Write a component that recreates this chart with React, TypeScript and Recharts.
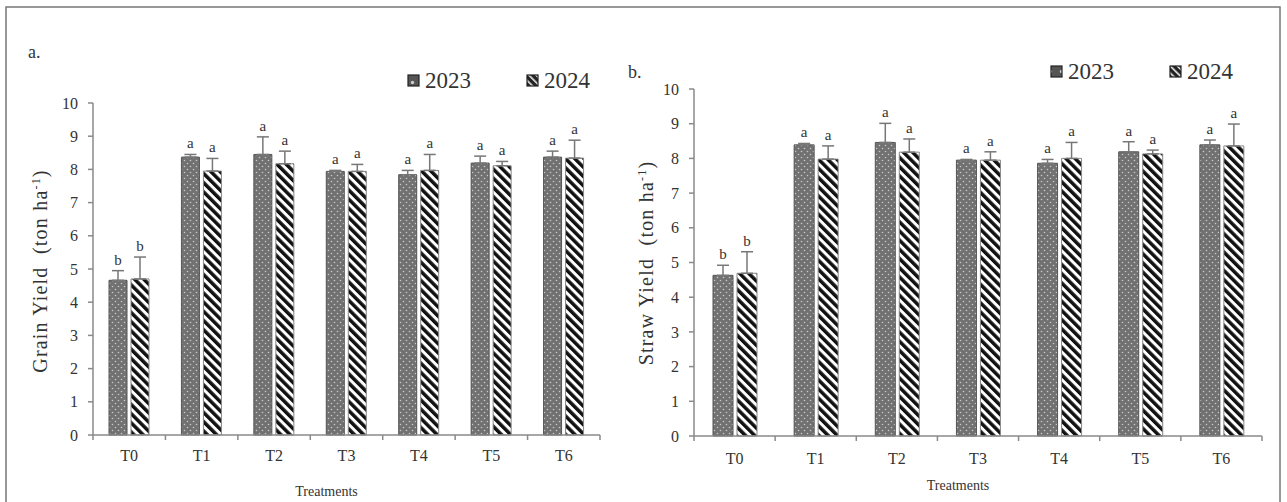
import { BarChart, Bar, XAxis, YAxis, ErrorBar, LabelList, Label } from 'recharts';

const treatments = ['T0', 'T1', 'T2', 'T3', 'T4', 'T5', 'T6'];

// a. grain yield (ton/ha)
const grain2023 = [4.66, 8.37, 8.45, 7.94, 7.84, 8.19, 8.37];
const grain2024 = [4.7, 7.95, 8.17, 7.94, 7.97, 8.11, 8.34];
const grainErr2023 = [0.29, 0.08, 0.53, 0.03, 0.13, 0.21, 0.18];
const grainErr2024 = [0.66, 0.38, 0.38, 0.21, 0.48, 0.13, 0.54];

// b. straw yield (ton/ha)
const straw2023 = [4.63, 8.39, 8.46, 7.95, 7.86, 8.19, 8.39];
const straw2024 = [4.69, 7.98, 8.18, 7.95, 8.0, 8.13, 8.36];
const strawErr2023 = [0.29, 0.04, 0.55, 0.02, 0.11, 0.29, 0.14];
const strawErr2024 = [0.62, 0.38, 0.38, 0.24, 0.46, 0.11, 0.63];

const letters2023 = ['b', 'a', 'a', 'a', 'a', 'a', 'a'];
const letters2024 = ['b', 'a', 'a', 'a', 'a', 'a', 'a'];

const yTicks = [0, 1, 2, 3, 4, 5, 6, 7, 8, 9, 10];

const serif = '"Liberation Serif", "Times New Roman", serif';
const axisGray = '#8a8a8a';
const textColor = '#333';

function buildRows(v23: number[], v24: number[], e23: number[], e24: number[]) {
  return treatments.map((t, i) => ({
    name: t,
    y2023: v23[i],
    y2024: v24[i],
    e2023: [0, e23[i]],
    e2024: [0, e24[i]],
    l2023: letters2023[i],
    l2024: letters2024[i],
  }));
}

const letterLabel = (vals: number[], errs: number[]) => (props: any) => {
  const x = Number(props.x);
  const y = Number(props.y);
  const w = Number(props.width);
  const h = Number(props.height);
  const i = props.index;
  const perUnit = h / vals[i];
  const top = y - errs[i] * perUnit;
  return (
    <text x={x + w / 2} y={top - 6} textAnchor="middle" fontSize={15} fontFamily={serif} fill={textColor}>
      {props.value}
    </text>
  );
};

// category label plus Excel-style tick marks on the category boundaries
const catTick = (band: number, gap: number) => (props: any) => {
  const x = Number(props.x);
  const y = Number(props.y);
  const axisY = y - 5 - gap;
  const left = x - band / 2;
  const right = x + band / 2;
  const last = props.index === treatments.length - 1;
  return (
    <g>
      <line x1={left} x2={left} y1={axisY} y2={axisY + 5} stroke={axisGray} strokeWidth={1.5} />
      {last && <line x1={right} x2={right} y1={axisY} y2={axisY + 5} stroke={axisGray} strokeWidth={1.5} />}
      <text x={x} y={y} dy="0.71em" textAnchor="middle" fontSize={16} fontFamily={serif} fill={textColor}>
        {props.payload.value}
      </text>
    </g>
  );
};

const xTitle = (y: number, shift: number) => (props: any) => {
  const vb = props.viewBox || {};
  const cx = Number(vb.x) + Number(vb.width) / 2 + shift;
  return (
    <text x={cx} y={y} textAnchor="middle" fontSize={14} fontFamily={serif} fill={textColor}>
      Treatments
    </text>
  );
};

interface PanelProps {
  v23: number[];
  v24: number[];
  e23: number[];
  e24: number[];
  width: number;
  margin: { top: number; right: number; bottom: number; left: number };
  yWidth: number;
  barSize: number;
  band: number;
  treatY: number;
  tickGap: number;
}

function Panel(p: PanelProps) {
  const rows = buildRows(p.v23, p.v24, p.e23, p.e24);
  return (
    <BarChart width={p.width} height={502} data={rows} margin={p.margin} barGap={4} barSize={p.barSize}>
      <XAxis
        dataKey="name"
        tickLine={false}
        axisLine={{ stroke: axisGray, strokeWidth: 1.5 }}
        tickSize={5}
        tickMargin={p.tickGap}
        height={30}
        interval={0}
        tick={catTick(p.band, p.tickGap)}
      >
        <Label content={xTitle(p.treatY, -20)} />
      </XAxis>
      <YAxis
        domain={[0, 10]}
        ticks={yTicks}
        interval={0}
        width={p.yWidth}
        tickSize={5}
        tickMargin={10}
        axisLine={{ stroke: axisGray, strokeWidth: 1.5 }}
        tickLine={{ stroke: axisGray, strokeWidth: 1.5 }}
        tick={{ fontSize: 16, fontFamily: serif, fill: textColor }}
      />
      <Bar dataKey="y2023" fill="url(#dots)" stroke="#555" strokeWidth={1} isAnimationActive={false}>
        <ErrorBar dataKey="e2023" width={6} stroke="#777" strokeWidth={1.5} direction="y" />
        <LabelList dataKey="l2023" content={letterLabel(p.v23, p.e23)} />
      </Bar>
      <Bar dataKey="y2024" fill="url(#stripes)" stroke="#888" strokeWidth={1} isAnimationActive={false}>
        <ErrorBar dataKey="e2024" width={6} stroke="#777" strokeWidth={1.5} direction="y" />
        <LabelList dataKey="l2024" content={letterLabel(p.v24, p.e24)} />
      </Bar>
    </BarChart>
  );
}

function LegendItem({ x, y, kind, label }: { x: number; y: number; kind: string; label: string }) {
  return (
    <g>
      <rect x={x} y={y} width={11} height={11} fill={`url(#${kind}-icon)`} stroke="#222" strokeWidth={1.2} />
      <text x={x + 17} y={y + 13} fontSize={23} fontFamily={serif} fill={textColor}>
        {label}
      </text>
    </g>
  );
}

function YTitle({ cx, cy, text }: { cx: number; cy: number; text: string }) {
  return (
    <text
      x={cx}
      y={cy}
      dy="0.35em"
      textAnchor="middle"
      transform={`rotate(-90, ${cx}, ${cy})`}
      fontSize={20}
      letterSpacing={1.2}
      fontFamily={serif}
      fill={textColor}
      style={{ whiteSpace: 'pre' }}
    >
      {text}{'  '}(ton ha<tspan baselineShift="super" fontSize={12}>-1</tspan>)
    </text>
  );
}

export default function App() {
  return (
    <div style={{ position: 'fixed', left: 0, top: 0, width: 1287, height: 502, background: '#fff', overflow: 'hidden' }}>
      <svg width={1287} height={502} style={{ position: 'absolute', left: 0, top: 0 }}>
        <defs>
          <pattern id="dots" width="6" height="6" patternUnits="userSpaceOnUse">
            <rect width="6" height="6" fill="#717171" />
            <circle cx="1.5" cy="1.5" r="0.8" fill="#c9c9c9" />
            <circle cx="4.5" cy="4.5" r="0.8" fill="#c9c9c9" />
          </pattern>
          <pattern id="stripes" width="6.5" height="6.5" patternUnits="userSpaceOnUse" patternTransform="rotate(-45)">
            <rect width="6.5" height="6.5" fill="#fff" />
            <rect width="3.5" height="6.5" fill="#111" />
          </pattern>
          <pattern id="dots-icon" width="11" height="11" patternUnits="userSpaceOnUse">
            <rect width="11" height="11" fill="#555" />
            <circle cx="5.5" cy="5.5" r="1.7" fill="#ccc" />
          </pattern>
          <pattern id="stripes-icon" width="5" height="5" patternUnits="userSpaceOnUse" patternTransform="rotate(-45)">
            <rect width="5" height="5" fill="#222" />
            <rect width="1.6" height="5" fill="#eee" />
          </pattern>
        </defs>
        <rect x={6} y={7} width={1274} height={510} fill="none" stroke="#777" strokeWidth={1.5} />
        <text x={28} y={58} fontSize={18} fontFamily={serif} fill={textColor}>a.</text>
        <text x={628} y={78} fontSize={18} fontFamily={serif} fill={textColor}>b.</text>
        <LegendItem x={408} y={75} kind="dots" label="2023" />
        <LegendItem x={527} y={75} kind="stripes" label="2024" />
        <LegendItem x={1051} y={66} kind="dots" label="2023" />
        <LegendItem x={1170} y={66} kind="stripes" label="2024" />
        <YTitle cx={40} cy={271} text="Grain Yield" />
        <YTitle cx={646} cy={263} text="Straw Yield" />
      </svg>
      <div style={{ position: 'absolute', left: 0, top: 0 }}>
        <Panel
          v23={grain2023}
          v24={grain2024}
          e23={grainErr2023}
          e24={grainErr2024}
          width={620}
          margin={{ top: 103, right: 20, bottom: 37, left: 33 }}
          yWidth={60}
          barSize={18}
          band={507 / 7}
          treatY={496}
          tickGap={10}
        />
      </div>
      <div style={{ position: 'absolute', left: 620, top: 0 }}>
        <Panel
          v23={straw2023}
          v24={straw2024}
          e23={strawErr2023}
          e24={strawErr2024}
          width={667}
          margin={{ top: 89, right: 25, bottom: 36, left: 34 }}
          yWidth={40}
          barSize={20}
          band={568 / 7}
          treatY={490}
          tickGap={12}
        />
      </div>
    </div>
  );
}
